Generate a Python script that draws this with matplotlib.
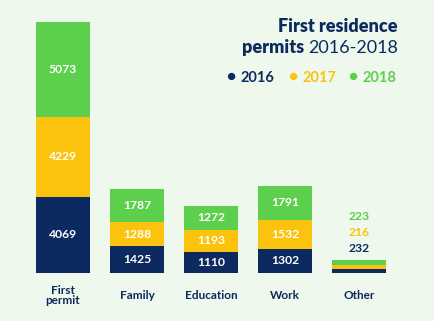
import matplotlib.pyplot as plt
import numpy as np

categories = ["First\npermit", "Family", "Education", "Work", "Other"]
years = ["2016", "2017", "2018"]
v2016 = [4069, 1425, 1110, 1302, 232]
v2017 = [4229, 1288, 1193, 1532, 216]
v2018 = [5073, 1787, 1272, 1791, 223]

navy = "#0c2a60"
yellow = "#fbc30d"
green = "#5ccf4c"
bg = "#eef8ec"

plt.rcParams['font.family'] = ['Lato', 'DejaVu Sans']

W, H = 435, 321
fig = plt.figure(figsize=(W / 100, H / 100), dpi=100, facecolor=bg)
ax = fig.add_axes([0, 0, 1, 1])
ax.set_facecolor(bg)

# pixel layout: bar centres every 74 px starting at 63, baseline 48 px from bottom
step = 74
x0 = 63
base = 48
scale = 251 / 13371
ax.set_xlim(-x0 / step, (W - x0) / step)
ax.set_ylim(-base / scale, (H - base) / scale)
ax.axis("off")

x = np.arange(len(categories))
width = 54 / step
bottom = np.zeros(len(categories))
series = [v2016, v2017, v2018]
colors = [navy, yellow, green]
for vals, c in zip(series, colors):
    vals = np.array(vals)
    ax.bar(x, vals, width, bottom=bottom, color=c)
    for i, v in enumerate(vals):
        if i < len(categories) - 1:
            ax.text(x[i], bottom[i] + v / 2, str(v), ha="center", va="center",
                    color="white", fontsize=8.7, fontweight="bold")
    bottom += vals

# small bar: labels stacked above
other = len(categories) - 1
top = bottom[other]
for k, (vals, c) in enumerate(zip(series, colors)):
    ax.text(x[other], top + (660 + 830 * k), str(vals[other]), ha="center",
            va="center", color=c, fontsize=8.7, fontweight="bold")

for i, cat in enumerate(categories):
    ax.text(x[i], -1200, cat, ha="center", va="center", color=navy,
            fontsize=8.5, fontweight="bold", linespacing=0.9)

fig.text(398 / W, 1 - 27 / H, "First residence", ha="right", va="center",
         color=navy, fontsize=13, fontweight="heavy")
t2 = fig.text(398 / W, 1 - 48 / H, "2016-2018", ha="right", va="center",
              color=navy, fontsize=13)
fig.canvas.draw()
bb = t2.get_window_extent()
fig.text((bb.x0 - 4) / W, 1 - 48 / H, "permits", ha="right", va="center",
         color=navy, fontsize=13, fontweight="heavy")

leg_x = [231, 293, 353]
for lx, yr, c in zip(leg_x, years, colors):
    fig.text(lx / W, 1 - 77 / H, "\u25cf", ha="center", va="center", color=c,
             fontsize=11)
    fig.text((lx + 10) / W, 1 - 78 / H, yr, ha="left", va="center", color=c,
             fontsize=10.5, fontweight="bold")

fig.savefig("out.png", dpi=100, facecolor=bg)
